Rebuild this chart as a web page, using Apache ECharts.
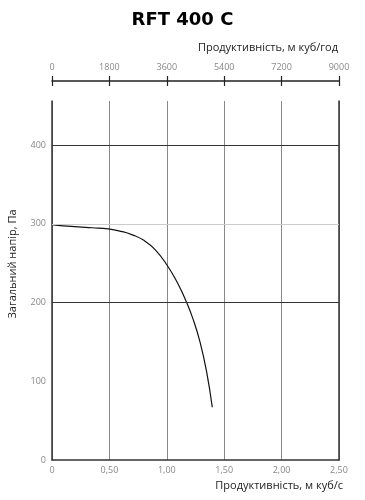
<!DOCTYPE html>
<html><head><meta charset="utf-8">
<script src="https://cdn.jsdelivr.net/npm/echarts@6/dist/echarts.min.js"></script>
<style>html,body{margin:0;padding:0;background:#fff}#c{width:365px;height:500px}</style>
</head><body><div id="c"></div>
<script>
const title = "RFT 400 C";
const xTopName = "Продуктивність, м куб/год";
const xBottomName = "Продуктивність, м куб/с";
const yName = "Загальний напір, Па";
const flowM3s = [0, 0.1, 0.23, 0.35, 0.49, 0.6, 0.7, 0.8, 0.9, 1.0, 1.1, 1.167, 1.231, 1.289, 1.347, 1.396];
const pressurePa = [299, 297.5, 296, 295, 293.5, 290.5, 286, 279, 267, 248, 223, 202, 178, 150, 112, 67];
const bottomTicks = [0, 0.5, 1.0, 1.5, 2.0, 2.5];
const topTicks = [0, 1800, 3600, 5400, 7200, 9000];
const yTicks = [0, 100, 200, 300, 400];

const chart = echarts.init(document.getElementById('c'), null, {renderer: 'canvas'});
const labelFont = {color: '#888', fontSize: 9, fontFamily: 'Liberation Sans Narrow, Open Sans'};
const fmtBottom = v => v === 0 ? '0' : v.toFixed(2).replace('.', ',');
chart.setOption({
  animation: false,
  title: {text: title, left: 'center', top: 6, textStyle: {fontFamily: 'DejaVu Sans', fontWeight: 'bold', fontSize: 18, color: '#000'}},
  grid: {left: 52, right: 26, top: 101, bottom: 40},
  graphic: [
    {type: 'text', right: 27, top: 42, style: {text: xTopName, fontFamily: 'Open Sans', fontSize: 11, fill: '#222'}},
    {type: 'text', right: 22, top: 480, style: {text: xBottomName, fontFamily: 'Open Sans', fontSize: 11, fill: '#222'}},
    {type: 'text', x: 13, y: 264, rotation: Math.PI / 2, style: {text: yName, fontFamily: 'Open Sans', fontSize: 11, fill: '#222', align: 'center', verticalAlign: 'middle'}}
  ],
  xAxis: [
    {type: 'value', position: 'bottom', min: 0, max: 2.5, interval: 0.5,
     axisLine: {show: true, onZero: false, lineStyle: {color: '#333', width: 1.5}}, axisTick: {show: false},
     axisLabel: Object.assign({formatter: fmtBottom, margin: 6}, labelFont),
     splitLine: {show: true, lineStyle: {color: '#888', width: 1}}},
    {type: 'value', position: 'top', offset: 20, min: 0, max: 9000, interval: 1800,
     axisLine: {show: true, onZero: false, lineStyle: {color: '#222', width: 1.5}},
     axisTick: {show: true, length: 5, lineStyle: {color: '#222', width: 1.2}},
     axisLabel: Object.assign({margin: 9, formatter: v => String(v)}, labelFont), splitLine: {show: false}},
    {type: 'value', position: 'top', offset: 20, min: 0, max: 9000, interval: 1800,
     axisLine: {show: false, onZero: false}, axisTick: {show: true, inside: true, length: 5, lineStyle: {color: '#222', width: 1.2}},
     axisLabel: {show: false}, splitLine: {show: false}}
  ],
  yAxis: [
    {type: 'value', min: 0, max: 456, interval: 100,
     axisLine: {show: true, onZero: false, lineStyle: {color: '#333', width: 1.5}}, axisTick: {show: false},
     axisLabel: Object.assign({showMaxLabel: false, margin: 6, formatter: v => yTicks.includes(v) ? String(v) : ''}, labelFont),
     splitLine: {show: false}},
    {type: 'value', position: 'right', min: 0, max: 456, interval: 100,
     axisLine: {show: true, onZero: false, lineStyle: {color: '#333', width: 1.5}}, axisTick: {show: false}, axisLabel: {show: false}, splitLine: {show: false}}
  ],
  series: [{
    type: 'line', xAxisIndex: 0, yAxisIndex: 0, smooth: 0.5, showSymbol: false,
    data: flowM3s.map((x, i) => [x, pressurePa[i]]),
    lineStyle: {color: '#111', width: 1.2},
    markLine: {silent: true, symbol: 'none', label: {show: false},
      data: [
        {yAxis: 200, lineStyle: {color: '#333', width: 1.2, type: 'solid'}},
        {yAxis: 300, lineStyle: {color: '#ccc', width: 1, type: 'solid'}},
        {yAxis: 400, lineStyle: {color: '#333', width: 1.2, type: 'solid'}}
      ]}
  }]
});
</script></body></html>
